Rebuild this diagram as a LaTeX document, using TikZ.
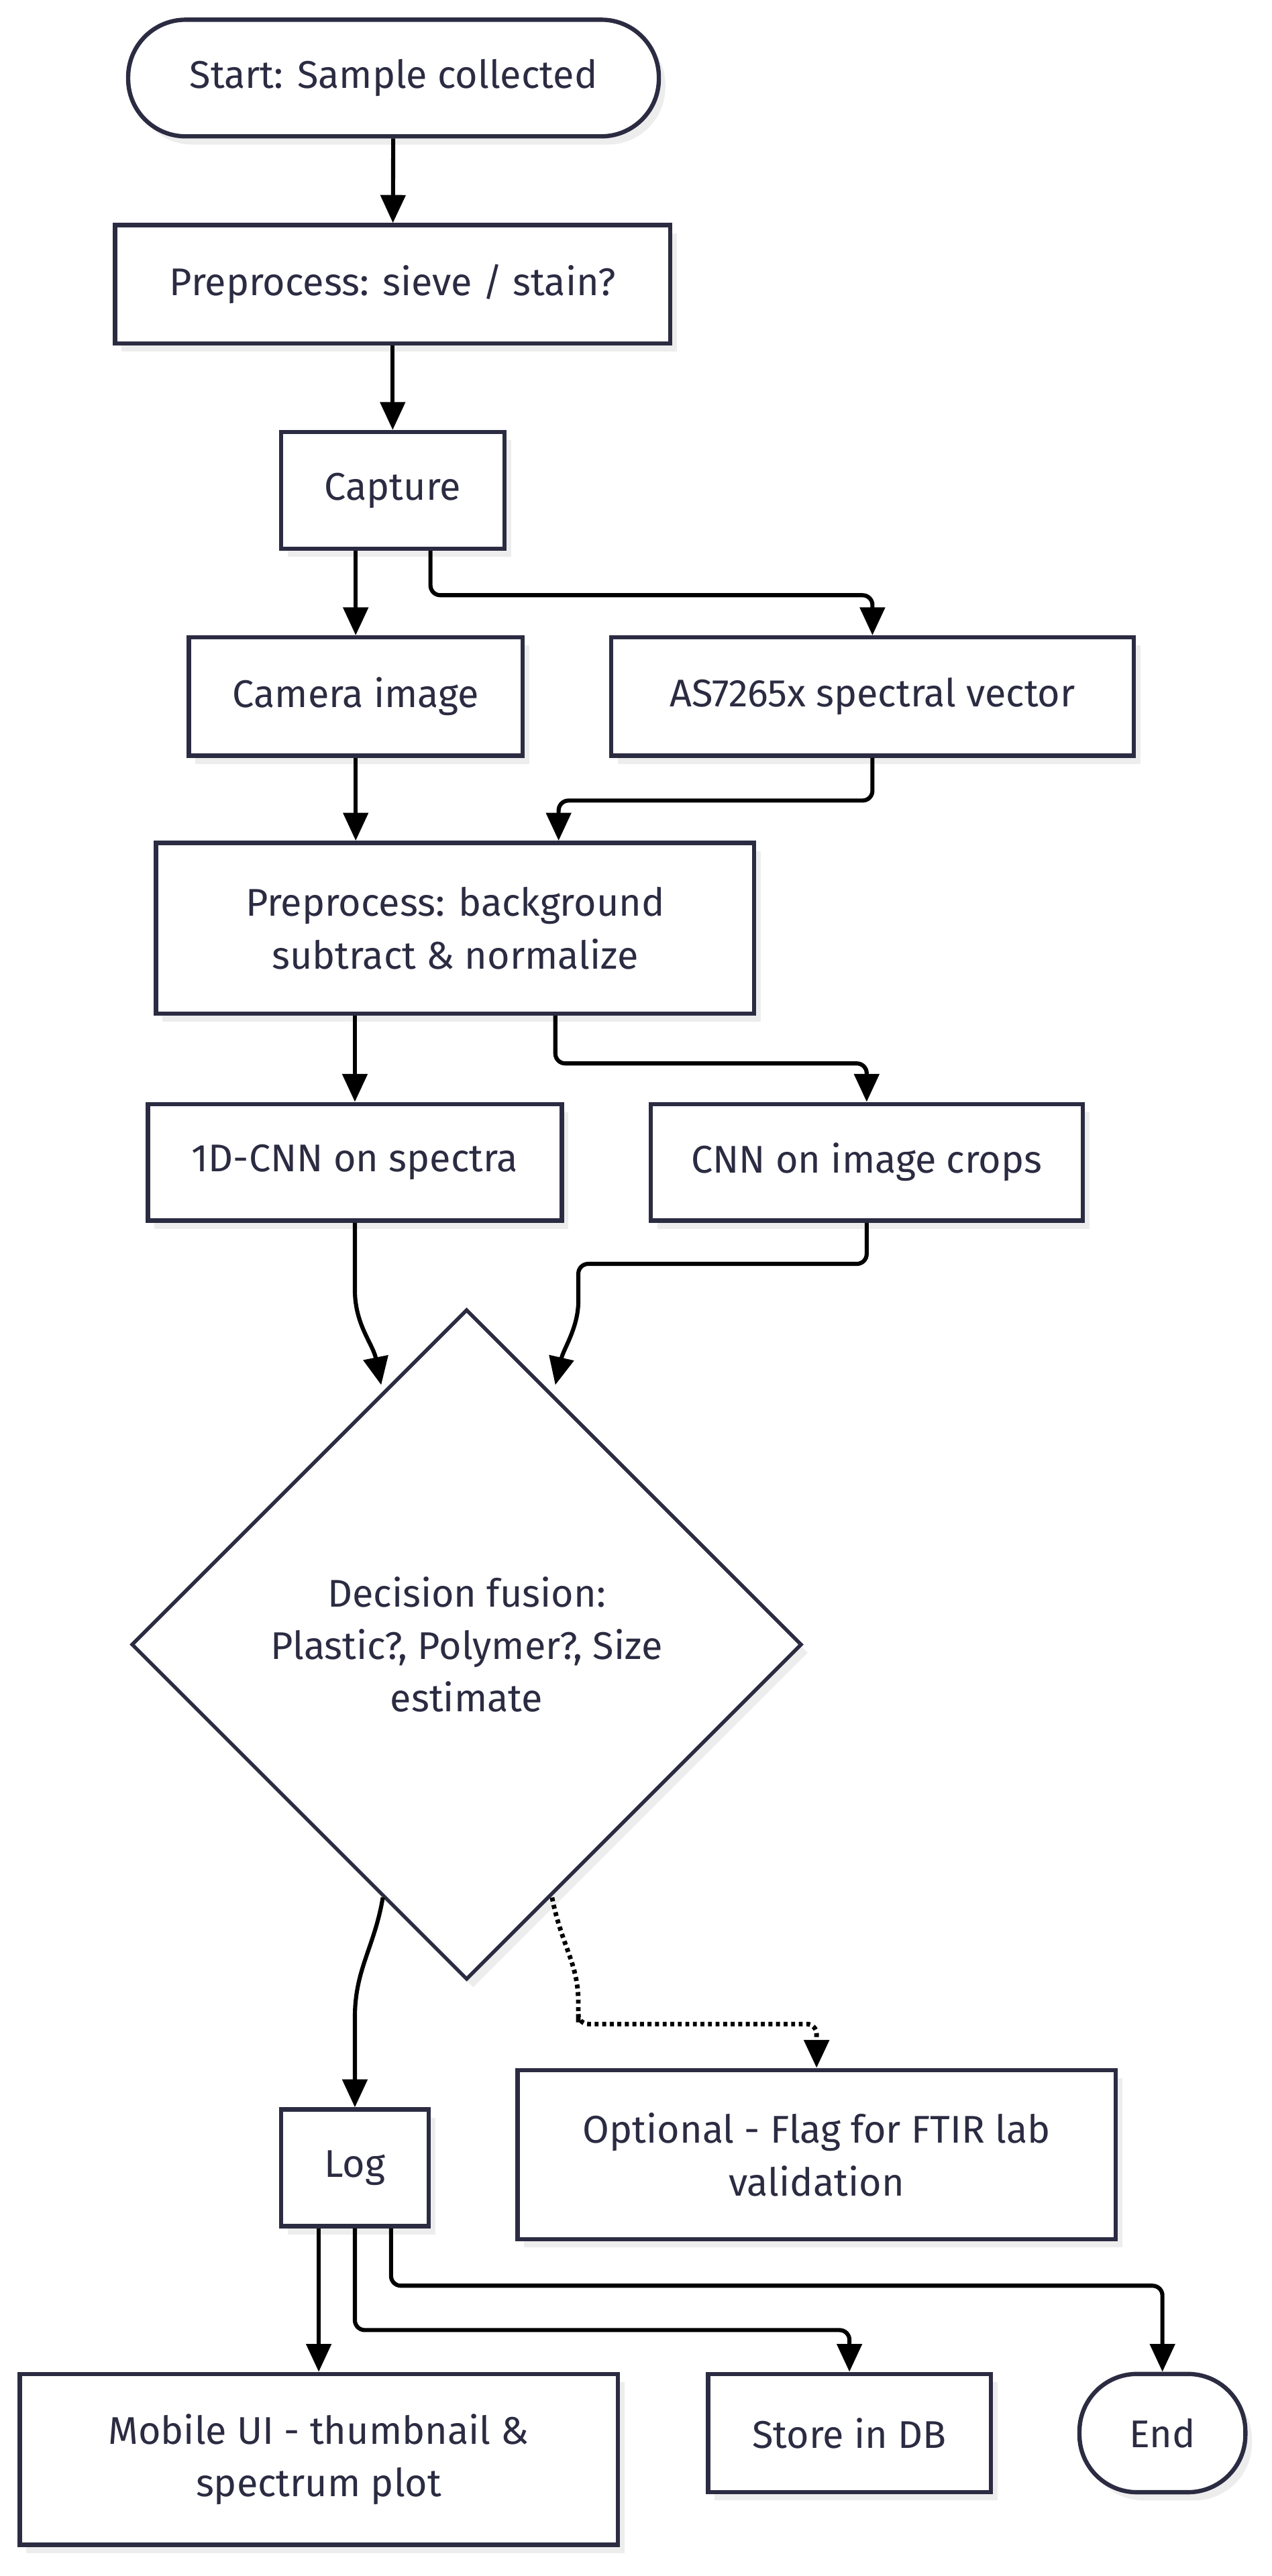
\documentclass[tikz,border=0pt]{standalone}
\usepackage{fontspec}
\setmainfont{Fira Sans}
\usetikzlibrary{shapes.geometric, calc, shadows, arrows.meta}
\definecolor{ink}{HTML}{2B2B42}
\tikzset{
  base/.style={draw=ink, line width=2.6pt, fill=white, text=ink, font=\fontsize{23.5}{32}\selectfont, align=center, inner sep=0pt,
    drop shadow={shadow xshift=4pt, shadow yshift=-5pt, fill=black!7, opacity=1}},
  box/.style={base, rectangle, minimum height=71pt},
  term/.style={base, rectangle, rounded corners=35pt, minimum height=71pt},
  dec/.style={base, diamond, minimum width=408pt, minimum height=408pt, line width=2.2pt},
  arr/.style={-{Triangle[length=17pt, width=15pt]}, line width=2.5pt, black, rounded corners=6pt},
  opt/.style={arr, line width=2.8pt, dash pattern=on 2.4pt off 2.2pt}
}

\begin{document}
\begin{tikzpicture}[x=1pt, y=-1pt]
		\useasboundingbox (0,0) rectangle (774,1568);
		\node[term, minimum width=323pt] (st) at (239.5,47.5) {Start: Sample collected};
		\node[box, minimum width=338pt, minimum height=72pt] (pre1) at (239,173) {Preprocess: sieve / stain?};
		\node[box, minimum width=136pt] (cap) at (239,298.5) {Capture};
		\node[box, minimum width=203pt, minimum height=72pt] (cam) at (216.5,424) {Camera image};
		\node[box, minimum width=318pt, minimum height=72pt] (spec) at (531,424) {AS7265x spectral vector};
		\node[box, minimum width=364pt, minimum height=104pt] (pre2) at (277,565) {Preprocess: background\\subtract \& normalize};
		\node[box, minimum width=252pt] (cnn1) at (216,707.5) {1D-CNN on spectra};
		\node[box, minimum width=263pt] (cnn2) at (527.5,707.5) {CNN on image crops};
		\node[dec] (fus) at (284,1001) {Decision fusion:\\Plastic?, Polymer?, Size\\estimate};
		\node[box, minimum width=90pt] (log) at (216,1319.5) {Log};
		\node[box, minimum width=364pt, minimum height=103pt] (ftir) at (497,1311.5) {Optional - Flag for FTIR lab\\validation};
		\node[box, minimum width=364pt, minimum height=104pt] (ui) at (194,1497) {Mobile UI - thumbnail \&\\spectrum plot};
		\node[box, minimum width=172pt, minimum height=72pt] (db) at (517,1481) {Store in DB};
		\node[term, minimum width=101pt, minimum height=72pt] (en) at (707.5,1481) {End};
		% ends of the curved edges on the diamond
		\coordinate (fl) at ($(fus.center)+(-52,-158)$);
		\coordinate (fr) at ($(fus.center)+(54,-158)$);
		\coordinate (fb1) at ($(fus.center)+(-51,154)$);
		\coordinate (fb2) at ($(fus.center)+(52,154)$);
		\draw[arr] (st) -- (pre1);
		\draw[arr] (pre1) -- (cap);
		\draw[arr] (cam.north |- cap.south) -- (cam);
		\draw[arr] ([xshift=23pt]cap.south) -- ++(0,27) -| (spec);
		\draw[arr] (cam) -- (cam.south |- pre2.north);
		\draw[arr] (spec.south) -- ++(0,26) -| ([xshift=63pt]pre2.north);
		\draw[arr] (cnn1.north |- pre2.south) -- (cnn1);
		\draw[arr] ([xshift=61pt]pre2.south) -- ++(0,29) -| (cnn2);
		\draw[arr] (cnn1.south) -- ($(cnn1.south)+(0,35)$) .. controls ($(cnn1.south)+(0,62)$) and ($(fl)+(-5,-25)$) .. (fl);
		\draw[arr] (cnn2.south) -- ++(0,25) -| ($(fr)+(14,-57)$) .. controls ($(fr)+(14,-35)$) and ($(fr)+(5,-22)$) .. (fr);
		\draw[arr] (fb1) .. controls ($(fb1)+(-5,30)$) and ($(log.north)+(0,-84)$) .. ($(log.north)+(0,-49)$) -- (log);
		\draw[opt] (fb2) .. controls ($(fb2)+(6,30)$) and ($(fb2)+(16,40)$) .. ($(fb2)+(16,70)$) -- ($(fb2)+(16,77)$) -| (ftir);
		\draw[arr] (ui.north |- log.south) -- (ui);
		\draw[arr] (log.south) -- ++(0,62) -| (db);
		\draw[arr] ([xshift=22pt]log.south) -- ++(0,35) -| (en);
	\end{tikzpicture}
\end{document}
